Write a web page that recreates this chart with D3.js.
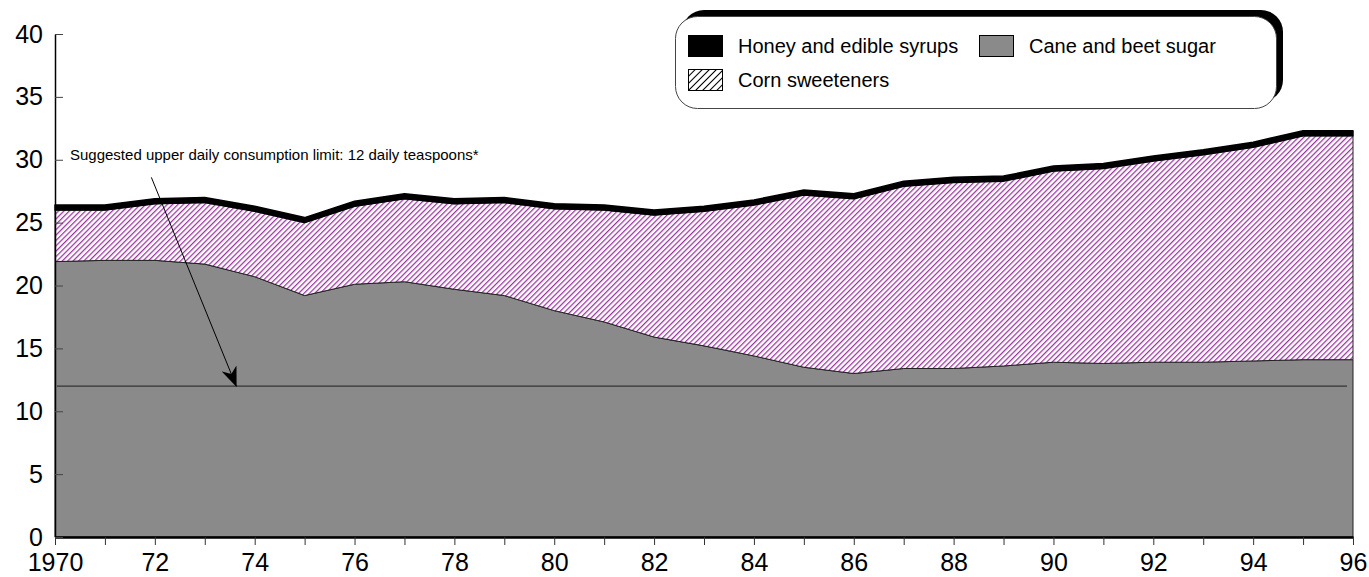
<!DOCTYPE html>
<html>
<head>
<meta charset="utf-8">
<script src="https://cdn.jsdelivr.net/npm/d3@7"></script>
<style>
    body { margin: 0; background: #fff; }
    text { font-family: "Liberation Sans", Arial, sans-serif; }
</style>
</head>
<body>
<script>
"use strict";
// per capita daily sweetener consumption, teaspoons
const years = [1970, 1971, 1972, 1973, 1974, 1975, 1976, 1977, 1978, 1979, 1980, 1981, 1982,
    1983, 1984, 1985, 1986, 1987, 1988, 1989, 1990, 1991, 1992, 1993, 1994, 1995, 1996]
const cane = [21.9, 22.0, 22.0, 21.7, 20.7, 19.2, 20.1, 20.3, 19.7, 19.2, 18.0, 17.1, 15.9,
    15.2, 14.4, 13.5, 13.0, 13.4, 13.4, 13.6, 13.9, 13.8, 13.9, 13.9, 14.0, 14.1, 14.1]
const corn = [4.1, 4.0, 4.5, 4.9, 5.2, 5.8, 6.2, 6.6, 6.8, 7.4, 8.1, 8.9, 9.7,
    10.7, 12.0, 13.7, 13.9, 14.5, 14.8, 14.7, 15.2, 15.5, 16.0, 16.5, 17.0, 17.8, 17.8]
const honey = [0.4, 0.4, 0.4, 0.4, 0.4, 0.4, 0.4, 0.4, 0.4, 0.4, 0.4, 0.4, 0.4,
    0.4, 0.4, 0.4, 0.4, 0.4, 0.4, 0.4, 0.4, 0.4, 0.4, 0.4, 0.4, 0.4, 0.4]
const yTicks = [0, 5, 10, 15, 20, 25, 30, 35, 40]
const limit = 12
const limitLabel = "Suggested upper daily consumption limit: 12 daily teaspoons*"
const legendLabels = ["Honey and edible syrups", "Cane and beet sugar", "Corn sweeteners"]

;(function(){
    const measurements = {
        width: 1369,
        height: 577,
        left: 55,
        right: 1353,
        top: 34,
        bottom: 537
    }

    const svg = d3.select("body").append("svg")
        .attr("width", measurements.width)
        .attr("height", measurements.height)

    const defs = svg.append("defs")

    // purple diagonal hatching for corn sweeteners
    const hatch = defs.append("pattern")
        .attr("id", "hatch")
        .attr("patternUnits", "userSpaceOnUse")
        .attr("width", 3.8)
        .attr("height", 3.8)
        .attr("patternTransform", "rotate(45)")
    hatch.append("rect").attr("width", 3.8).attr("height", 3.8).attr("fill", "#fff")
    hatch.append("line")
        .attr("x1", 0).attr("y1", 0).attr("x2", 0).attr("y2", 3.8)
        .attr("stroke", "#9a339f").attr("stroke-width", 2.5)

    // black hatching for the legend swatch
    const hatchKey = defs.append("pattern")
        .attr("id", "hatchKey")
        .attr("patternUnits", "userSpaceOnUse")
        .attr("width", 5)
        .attr("height", 5)
        .attr("patternTransform", "rotate(45)")
    hatchKey.append("rect").attr("width", 5).attr("height", 5).attr("fill", "#fff")
    hatchKey.append("line")
        .attr("x1", 0).attr("y1", 0).attr("x2", 0).attr("y2", 5)
        .attr("stroke", "#000").attr("stroke-width", 2)

    defs.append("marker")
        .attr("id", "arrow")
        .attr("markerUnits", "userSpaceOnUse")
        .attr("viewBox", "0 0 20 16")
        .attr("markerWidth", 20)
        .attr("markerHeight", 16)
        .attr("refX", 19)
        .attr("refY", 8)
        .attr("orient", "auto")
        .append("path")
        .attr("d", "M0,0 L20,8 L0,16 L6,8 Z")
        .attr("fill", "#000")

    const scaleX = d3.scaleLinear()
        .domain([1970, 1996])
        .range([measurements.left, measurements.right])
    const scaleY = d3.scaleLinear()
        .domain([0, 40])
        .range([measurements.bottom, measurements.top])

    // stack: cane at the bottom, corn above, honey on top
    const rows = years.map((yr, i) => ({ year: yr, cane: cane[i], corn: corn[i], honey: honey[i] }))
    const series = d3.stack().keys(["cane", "corn", "honey"])(rows)

    const area = d3.area()
        .x(d => scaleX(d.data.year))
        .y0(d => scaleY(d[0]))
        .y1(d => scaleY(d[1]))

    const fills = { cane: "#8a8a8a", corn: "url(#hatch)", honey: "#000" }

    svg.selectAll(".layer")
        .data(series)
        .enter()
        .append("path")
        .attr("class", "layer")
        .attr("d", area)
        .attr("fill", d => fills[d.key])
        .attr("stroke", d => d.key == "honey" ? "#000" : "#222")
        .attr("stroke-width", d => d.key == "honey" ? 1.5 : 1)
        .attr("stroke-linejoin", "round")

    // 12 teaspoon limit line
    svg.append("line")
        .attr("x1", scaleX(1970) + 2)
        .attr("x2", scaleX(1996) - 6)
        .attr("y1", scaleY(limit))
        .attr("y2", scaleY(limit))
        .attr("stroke", "#333")
        .attr("stroke-width", 1.3)

    svg.append("text")
        .attr("x", scaleX(1970) + 15)
        .attr("y", 160)
        .attr("font-size", 15)
        .attr("fill", "#000")
        .text(limitLabel)

    svg.append("line")
        .attr("x1", scaleX(1971.93))
        .attr("y1", scaleY(28.6))
        .attr("x2", scaleX(1973.63))
        .attr("y2", scaleY(limit))
        .attr("stroke", "#000")
        .attr("stroke-width", 1)
        .attr("marker-end", "url(#arrow)")

    // axes
    const xAxis = d3.axisBottom(scaleX)
        .tickValues(years)
        .tickSize(8)
        .tickSizeOuter(0)
        .tickFormat(d => d == 1970 ? "1970" : (d % 2 == 0 ? String(d).slice(2) : ""))
    const gx = svg.append("g")
        .attr("transform", "translate(0," + measurements.bottom + ")")
        .call(xAxis)
    gx.select(".domain").attr("stroke", "#000").attr("stroke-width", 2.5)
    gx.selectAll(".tick line").attr("stroke", "#333")
    gx.selectAll(".tick text")
        .attr("y", 16)
        .attr("font-size", 25)
        .attr("font-family", "Liberation Sans, Arial, sans-serif")
        .attr("fill", "#000")

    const yAxis = d3.axisLeft(scaleY)
        .tickValues(yTicks)
        .tickSizeInner(-8)
        .tickSizeOuter(0)
        .tickPadding(12)
    const gy = svg.append("g")
        .attr("transform", "translate(" + measurements.left + ",0)")
        .call(yAxis)
    gy.select(".domain").attr("stroke", "#000").attr("stroke-width", 1.5)
    gy.selectAll(".tick line").attr("stroke", "#444")
    gy.selectAll(".tick text")
        .attr("font-size", 25)
        .attr("font-family", "Liberation Sans, Arial, sans-serif")
        .attr("fill", "#000")

    // legend box with offset black shadow
    const legend = svg.append("g")
    legend.append("rect")
        .attr("x", 682).attr("y", 10)
        .attr("width", 601).attr("height", 92)
        .attr("rx", 22)
        .attr("fill", "#000")
    legend.append("rect")
        .attr("x", 675.5).attr("y", 16.5)
        .attr("width", 601).attr("height", 92)
        .attr("rx", 22)
        .attr("fill", "#fff")
        .attr("stroke", "#444")
        .attr("stroke-width", 1)

    const keys = [
        { label: legendLabels[0], fill: "#000", x: 688, y: 35 },
        { label: legendLabels[1], fill: "#8a8a8a", x: 979, y: 35 },
        { label: legendLabels[2], fill: "url(#hatchKey)", x: 688, y: 69 }
    ]
    const item = legend.selectAll(".key")
        .data(keys)
        .enter()
        .append("g")
        .attr("class", "key")
        .attr("transform", d => "translate(" + d.x + "," + d.y + ")")
    item.append("rect")
        .attr("x", 0.5).attr("y", 0.5)
        .attr("width", 34).attr("height", 21)
        .attr("fill", d => d.fill)
        .attr("stroke", "#000")
        .attr("stroke-width", 1)
    item.append("text")
        .attr("x", 50)
        .attr("y", 18)
        .attr("font-size", 20)
        .attr("fill", "#000")
        .text(d => d.label)
})()
</script>
</body>
</html>
